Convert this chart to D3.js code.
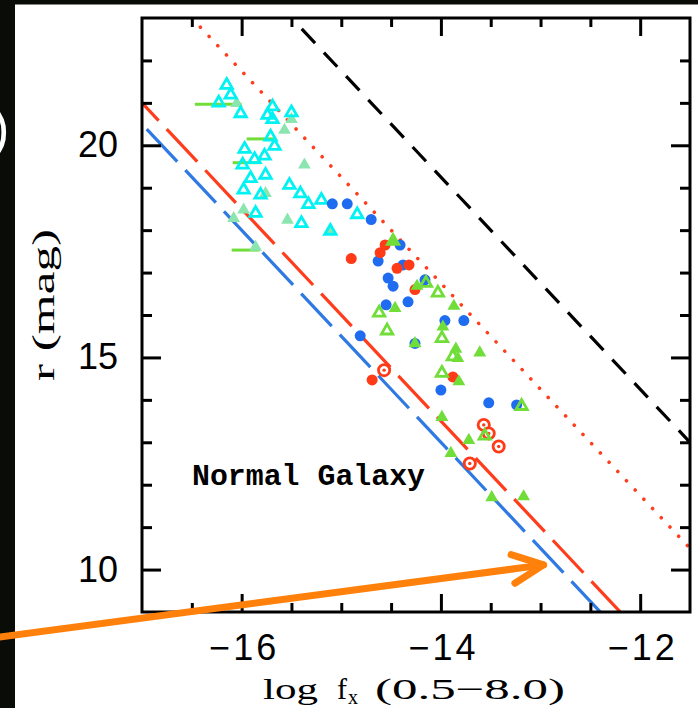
<!DOCTYPE html>
<html><head><meta charset="utf-8">
<script src="https://cdn.jsdelivr.net/npm/d3@7/dist/d3.min.js"></script>
<style>html,body{margin:0;padding:0;background:#fff;overflow:hidden}</style>
</head><body>
<svg id="chart" width="698" height="708"></svg>
<script>
// ---------- data (log fx, r mag) ----------
const xMajorTicks = [-16, -14, -12];
const yMajorTicks = [10, 15, 20];
const xDomain = [-17, -11.5];
const yDomain = [9, 23];
// reference lines r = -2.5*logfx + c  (intercepts c)
const blackDashedC = -15.75;
const redDottedC = -18.25;
const redDashedC = -21.5;
const blueDashedC = -22.0;

const cyanOpen = [[-16.15,21.42],[-16.11,21.19],[-16.23,21.00],[-16.01,20.75],[-15.69,20.91],[-15.74,20.71],
  [-15.69,20.61],[-15.50,20.77],[-15.71,20.20],[-15.67,19.98],[-15.97,19.91],[-15.77,19.75],[-15.87,19.67],
  [-15.99,19.54],[-15.76,19.30],[-15.91,19.22],[-15.98,18.95],[-15.52,19.06],[-15.81,18.83],[-15.41,18.86],
  [-15.33,18.61],[-15.20,18.71],[-15.86,18.40],[-15.40,18.16],[-14.84,18.37],[-15.11,17.98]];
const mintFilled = [[-16.05,20.99],[-15.50,20.61],[-15.57,20.36],[-15.37,19.54],[-15.76,18.87],[-15.98,18.48],
  [-16.08,18.28],[-15.54,18.24],[-15.11,17.98],[-15.86,17.60]];
const limitBars = [[-16.47,-16.00,20.97],[-15.95,-15.67,20.15],[-16.09,-15.81,19.59],[-16.10,-15.82,17.53]];
const blueFilled = [[-15.09,18.62],[-14.94,18.62],[-14.70,18.25],[-14.41,17.65],[-14.63,17.27],[-14.38,17.18],
  [-14.53,16.87],[-14.48,16.68],[-14.16,16.83],[-14.55,16.24],[-14.33,16.31],[-13.96,15.87],[-13.77,15.87],
  [-14.26,15.33],[-14.81,15.51],[-14.00,14.23],[-13.52,13.93],[-13.24,13.88]];
const redFilled = [[-14.90,17.33],[-14.56,17.65],[-14.61,17.47],[-14.44,17.10],[-14.32,17.18],[-14.26,16.60],
  [-13.88,14.54],[-14.69,14.47]];
const redRings = [[-14.57,14.70],[-13.57,13.41],[-13.52,13.21],[-13.42,12.90],[-13.71,12.50]];
const greenFilled = [[-14.48,17.74],[-14.24,16.68],[-14.46,16.16],[-13.87,16.21],[-13.98,15.72],[-14.26,15.33],
  [-13.85,15.20],[-13.83,14.98],[-13.61,15.11],[-13.82,14.43],[-13.99,13.59],[-13.72,13.05],[-13.90,12.74],
  [-13.49,11.70],[-13.17,11.72]];
const greenOpen = [[-14.48,17.74],[-14.15,16.75],[-14.03,16.52],[-14.62,16.05],[-14.54,15.63],[-13.99,15.45],
  [-13.88,15.02],[-13.99,14.63],[-13.19,13.85],[-13.56,13.15]];
// orange annotation arrow (data coords: tail, tip)
const arrowTail = [-18.43, 8.41];
const arrowTip = [-12.97, 10.11];

// ---------- layout ----------
const svg = d3.select("#chart");
const L = 142, R = 690, T = 18, B = 612;
const x = d3.scaleLinear(xDomain, [L, R]);
const y = d3.scaleLinear(yDomain, [B, T]);

const C = {cyan:"#00f2f2", mint:"#8ae6ae", lime:"#70dd38", blue:"#1f6cf0", red:"#ff3a17",
           redLine:"#ff3d1c", blueLine:"#2f79e3", orange:"#ff800a"};

svg.append("rect").attr("width",698).attr("height",708).attr("fill","#fff");

svg.append("clipPath").attr("id","clip").append("rect")
  .attr("x",L).attr("y",T).attr("width",R-L).attr("height",B-T);

// ---------- reference lines ----------
const lineFor = c => [[xDomain[0], -2.5*xDomain[0]+c],[xDomain[1], -2.5*xDomain[1]+c]];
const lg = svg.append("g").attr("clip-path","url(#clip)");
const path = d3.line().x(d=>x(d[0])).y(d=>y(d[1]));
lg.append("path").attr("d",path(lineFor(blackDashedC))).attr("stroke","#000").attr("stroke-width",3.2)
  .attr("fill","none").attr("stroke-dasharray","19.5,12.9").attr("stroke-dashoffset",25.9);
lg.append("path").attr("d",path(lineFor(redDottedC))).attr("stroke",C.redLine).attr("stroke-width",3.6)
  .attr("fill","none").attr("stroke-linecap","round").attr("stroke-dasharray","0.01,12.69").attr("stroke-dashoffset",3.6);
lg.append("path").attr("d",path(lineFor(redDashedC))).attr("stroke",C.redLine).attr("stroke-width",3.2)
  .attr("fill","none").attr("stroke-dasharray","44.6,11.8").attr("stroke-dashoffset",20.3);
lg.append("path").attr("d",path(lineFor(blueDashedC))).attr("stroke",C.blueLine).attr("stroke-width",3.2)
  .attr("fill","none").attr("stroke-dasharray","44.6,11.8").attr("stroke-dashoffset",49.5);

// ---------- points ----------
const pg = svg.append("g").attr("clip-path","url(#clip)");
const tri = (s) => d3.symbol(d3.symbolTriangle, s)();

pg.selectAll(".bar").data(limitBars).join("line")
  .attr("x1",d=>x(d[0])).attr("x2",d=>x(d[1])).attr("y1",d=>y(d[2])).attr("y2",d=>y(d[2]))
  .attr("stroke",C.lime).attr("stroke-width",3);

pg.selectAll(".mint").data(mintFilled).join("path")
  .attr("d",tri(70)).attr("transform",d=>`translate(${x(d[0])},${y(d[1])})`).attr("fill",C.mint);

pg.selectAll(".cyan").data(cyanOpen).join("path")
  .attr("d",tri(56)).attr("transform",d=>`translate(${x(d[0])},${y(d[1])})`)
  .attr("fill","none").attr("stroke",C.cyan).attr("stroke-width",2.8);

pg.selectAll(".blue").data(blueFilled).join("circle")
  .attr("cx",d=>x(d[0])).attr("cy",d=>y(d[1])).attr("r",5.5).attr("fill",C.blue);

pg.selectAll(".red").data(redFilled).join("circle")
  .attr("cx",d=>x(d[0])).attr("cy",d=>y(d[1])).attr("r",5.5).attr("fill",C.red);

pg.selectAll(".ring").data(redRings).join("circle")
  .attr("cx",d=>x(d[0])).attr("cy",d=>y(d[1])).attr("r",5.6).attr("fill","#fff")
  .attr("stroke",C.red).attr("stroke-width",2.8);
pg.selectAll(".ringdot").data(redRings).join("circle")
  .attr("cx",d=>x(d[0])).attr("cy",d=>y(d[1])).attr("r",1.7).attr("fill",C.red);

pg.selectAll(".gf").data(greenFilled).join("path")
  .attr("d",tri(72)).attr("transform",d=>`translate(${x(d[0])},${y(d[1])})`).attr("fill",C.lime);

pg.selectAll(".go").data(greenOpen).join("path")
  .attr("d",tri(56)).attr("transform",d=>`translate(${x(d[0])},${y(d[1])})`)
  .attr("fill","none").attr("stroke",C.lime).attr("stroke-width",2.8);

// ---------- axes ----------
const fmt = d => d < 0 ? "\u2212" + Math.abs(d) : String(d);
const xMinor = d3.range(xDomain[0]+0.5, xDomain[1], 0.5).filter(v => !xMajorTicks.includes(v));
const yMinor = d3.range(yDomain[0]+1, yDomain[1], 1).filter(v => !yMajorTicks.includes(v));

function styleAxis(g){
  g.select(".domain").remove();
  g.selectAll("line").attr("stroke","#000").attr("stroke-width",3);
  g.selectAll("text").attr("fill","#000");
  g.attr("font-family","'Liberation Sans', Arial, sans-serif").attr("font-size",36);
}
svg.append("g").attr("transform",`translate(0,${B})`)
  .call(d3.axisBottom(x).tickValues(xMajorTicks).tickSize(-18).tickPadding(22).tickFormat(fmt)).call(styleAxis)
  .selectAll("text").attr("letter-spacing",3).attr("dx",2);
svg.append("g").attr("transform",`translate(0,${B})`)
  .call(d3.axisBottom(x).tickValues(xMinor).tickSize(-9).tickFormat("")).call(styleAxis);
svg.append("g").attr("transform",`translate(0,${T})`)
  .call(d3.axisTop(x).tickValues(xMajorTicks).tickSize(-18).tickFormat("")).call(styleAxis);
svg.append("g").attr("transform",`translate(0,${T})`)
  .call(d3.axisTop(x).tickValues(xMinor).tickSize(-9).tickFormat("")).call(styleAxis);
svg.append("g").attr("transform",`translate(${L},0)`)
  .call(d3.axisLeft(y).tickValues(yMajorTicks).tickSize(-19).tickPadding(24).tickFormat(fmt)).call(styleAxis);
svg.append("g").attr("transform",`translate(${L},0)`)
  .call(d3.axisLeft(y).tickValues(yMinor).tickSize(-10).tickFormat("")).call(styleAxis);
svg.append("g").attr("transform",`translate(${R},0)`)
  .call(d3.axisRight(y).tickValues(yMajorTicks).tickSize(-19).tickFormat("")).call(styleAxis);
svg.append("g").attr("transform",`translate(${R},0)`)
  .call(d3.axisRight(y).tickValues(yMinor).tickSize(-10).tickFormat("")).call(styleAxis);

svg.append("rect").attr("x",L).attr("y",T).attr("width",R-L).attr("height",B-T)
  .attr("fill","none").attr("stroke","#000").attr("stroke-width",3);

// ---------- texts ----------
svg.append("text").attr("x",192).attr("y",485).attr("font-family","'Liberation Mono', 'Courier New', monospace")
  .attr("font-weight","bold").attr("font-size",30).attr("textLength",233).attr("lengthAdjust","spacingAndGlyphs")
  .text("Normal Galaxy");

const serif = "'Liberation Serif', 'Times New Roman', serif";
svg.append("text").attr("x",263).attr("y",699).attr("font-family",serif).attr("font-size",30)
  .attr("textLength",55).attr("lengthAdjust","spacingAndGlyphs").text("log");
svg.append("text").attr("x",337).attr("y",699).attr("font-family",serif).attr("font-size",30).text("f");
svg.append("text").attr("x",348).attr("y",704).attr("font-family",serif).attr("font-size",20).text("x");
svg.append("text").attr("x",375).attr("y",699).attr("font-family",serif).attr("font-size",30)
  .attr("textLength",190).attr("lengthAdjust","spacingAndGlyphs").text("(0.5\u22128.0)");

svg.append("text").attr("transform","translate(54,305) rotate(-90)").attr("text-anchor","middle")
  .attr("font-family",serif).attr("font-size",32).attr("textLength",152).attr("lengthAdjust","spacingAndGlyphs")
  .text("r (mag)");

// ---------- frame of the photo ----------
svg.append("rect").attr("x",0).attr("y",0).attr("width",15).attr("height",708).attr("fill","#0a0c08");
svg.append("rect").attr("x",0).attr("y",0).attr("width",698).attr("height",4.5).attr("fill","#0a0c08");
svg.append("text").attr("x",-8).attr("y",146).attr("font-family","'Liberation Sans', Arial, sans-serif")
  .attr("font-size",52).attr("fill","#fff").text(")");

// ---------- orange arrow ----------
const tx = x(arrowTail[0]), ty = y(arrowTail[1]), hx = x(arrowTip[0]), hy = y(arrowTip[1]);
const ang = Math.atan2(ty-hy, tx-hx), wl = 34, wa = 25*Math.PI/180;
const ag = svg.append("g").attr("stroke",C.orange).attr("stroke-width",7).attr("stroke-linecap","round").attr("fill","none");
ag.append("line").attr("x1",tx).attr("y1",ty).attr("x2",hx).attr("y2",hy);
ag.append("path").attr("stroke-linejoin","round")
  .attr("d",`M${hx+wl*Math.cos(ang+wa)},${hy+wl*Math.sin(ang+wa)}L${hx},${hy}L${hx+wl*Math.cos(ang-wa)},${hy+wl*Math.sin(ang-wa)}`);
</script>
</body></html>
